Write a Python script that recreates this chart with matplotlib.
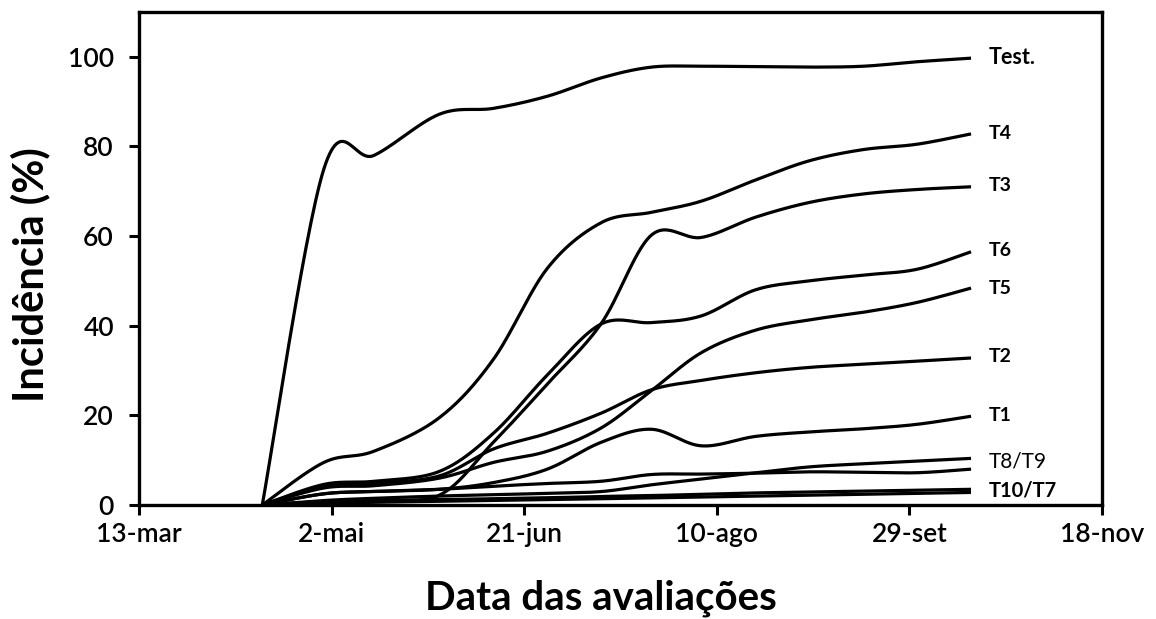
import numpy as np
import pandas as pd
import matplotlib
matplotlib.use('Agg')
import matplotlib.pyplot as plt

plt.rcParams['font.family'] = ['Lato', 'DejaVu Sans']

# datas das avaliacoes
eval_dates = pd.to_datetime(['2011-04-14', '2011-04-30', '2011-05-13', '2011-05-30', '2011-06-13',
                             '2011-06-27', '2011-07-11', '2011-07-24', '2011-08-06', '2011-08-20',
                             '2011-09-03', '2011-09-17', '2011-10-01', '2011-10-15'])

test_ = [0, 75.0, 78.0, 87.2, 88.5, 91.2, 95.3, 97.7, 97.9, 97.8, 97.7, 97.9, 98.9, 99.7]
t4 = [0, 9.5, 12.0, 19.5, 32.5, 52.8, 63.0, 65.3, 67.8, 72.5, 76.8, 79.3, 80.5, 82.8]
t3 = [0, 0.8, 1.2, 2.2, 14.0, 27.0, 40.5, 60.2, 59.7, 64.2, 67.5, 69.4, 70.4, 71.0]
t6 = [0, 4.6, 5.3, 7.5, 16.0, 29.0, 40.4, 40.7, 42.2, 48.0, 50.0, 51.3, 52.6, 56.5]
t5 = [0, 3.8, 4.3, 6.0, 9.5, 12.0, 17.2, 25.5, 34.0, 39.0, 41.3, 43.0, 45.2, 48.4]
t2 = [0, 4.2, 4.8, 6.5, 12.5, 16.0, 20.5, 25.7, 27.8, 29.5, 30.7, 31.4, 32.1, 32.8]
t1 = [0, 2.5, 3.0, 3.5, 5.0, 8.0, 14.0, 16.9, 13.2, 15.3, 16.3, 17.0, 18.0, 19.8]
t8 = [0, 1.0, 1.5, 2.0, 2.3, 2.6, 3.0, 4.5, 5.8, 7.2, 8.5, 9.2, 9.8, 10.4]
t9 = [0, 2.5, 3.0, 3.5, 4.2, 4.8, 5.3, 6.8, 6.9, 7.1, 7.4, 7.3, 7.2, 8.0]
t10 = [0, 0.8, 1.0, 1.2, 1.4, 1.6, 1.9, 2.1, 2.4, 2.7, 2.9, 3.1, 3.3, 3.5]
t7 = [0, 0.4, 0.6, 0.8, 1.0, 1.2, 1.4, 1.6, 1.8, 2.0, 2.2, 2.4, 2.6, 2.8]

series = [test_, t4, t3, t6, t5, t2, t1, t8, t9, t10, t7]

labels = ['Test.', 'T4', 'T3', 'T6', 'T5', 'T2', 'T1', 'T8/T9', 'T10/T7']
label_y = [99.8, 82.9, 71.2, 56.7, 48.3, 33.2, 20.0, 9.6, 3.3]

tick_dates = pd.to_datetime(['2011-03-13', '2011-05-02', '2011-06-21', '2011-08-10', '2011-09-29', '2011-11-18'])
tick_labels = ['13-mar', '2-mai', '21-jun', '10-ago', '29-set', '18-nov']


def smooth(x, y, n=30):
    # curva suavizada tipo Excel (Bezier / Catmull-Rom)
    x = np.asarray(x, float); y = np.asarray(y, float)
    px = np.concatenate([[x[0]], x, [x[-1]]]); py = np.concatenate([[y[0]], y, [y[-1]]])
    xs, ys = [], []
    t = np.linspace(0, 1, n)
    for i in range(1, len(px) - 2):
        p0 = np.array([px[i], py[i]]); p3 = np.array([px[i + 1], py[i + 1]])
        p1 = p0 + (np.array([px[i + 1], py[i + 1]]) - np.array([px[i - 1], py[i - 1]])) / 6
        p2 = p3 - (np.array([px[i + 2], py[i + 2]]) - np.array([px[i], py[i]])) / 6
        b = ((1 - t) ** 3)[:, None] * p0 + (3 * (1 - t) ** 2 * t)[:, None] * p1 \
            + (3 * (1 - t) * t ** 2)[:, None] * p2 + (t ** 3)[:, None] * p3
        xs.append(b[:, 0]); ys.append(b[:, 1])
    return np.concatenate(xs), np.concatenate(ys)


fig = plt.figure(figsize=(11.56, 6.19), dpi=100)
ax = fig.add_axes([139 / 1156, 1 - 505 / 619, (1102 - 139) / 1156, (505 - 12) / 619])

xnum = matplotlib.dates.date2num(eval_dates)
for s in series:
    sx, sy = smooth(xnum, s)
    ax.plot(sx, sy, color='black', lw=2.3, solid_capstyle='butt')

xend = xnum[-1]
label_size = {'Test.': 15.5, 'T8/T9': 15, 'T10/T7': 14.5}
label_weight = {'T8/T9': 'normal'}
for lab, yv in zip(labels, label_y):
    ax.text(xend + 4.5, yv, lab, ha='left', va='center', fontsize=label_size.get(lab, 14),
            fontweight=label_weight.get(lab, 'bold'))

ax.set_xlim(matplotlib.dates.date2num(tick_dates[0]), matplotlib.dates.date2num(tick_dates[-1]))
ax.set_ylim(0, 110)
ax.set_xticks(matplotlib.dates.date2num(tick_dates))
ax.set_xticklabels(tick_labels)
ax.set_yticks([0, 20, 40, 60, 80, 100])
ax.tick_params(axis='both', direction='out', length=7, width=2.2, labelsize=19, color='black')
ax.tick_params(axis='x', pad=5)
ax.tick_params(axis='y', pad=11)
for lbl in ax.get_xticklabels() + ax.get_yticklabels():
    lbl.set_fontweight('semibold')
for sp in ax.spines.values():
    sp.set_linewidth(2.4)

fig.text(30 / 1156, 1 - 275 / 619, 'Incidência (%)', rotation=90, ha='center', va='center', fontsize=30, fontweight='bold')
fig.text(601 / 1156, 1 - 598 / 619, 'Data das avaliações', ha='center', va='center', fontsize=29, fontweight='bold')

fig.savefig('out.png', dpi=100)
